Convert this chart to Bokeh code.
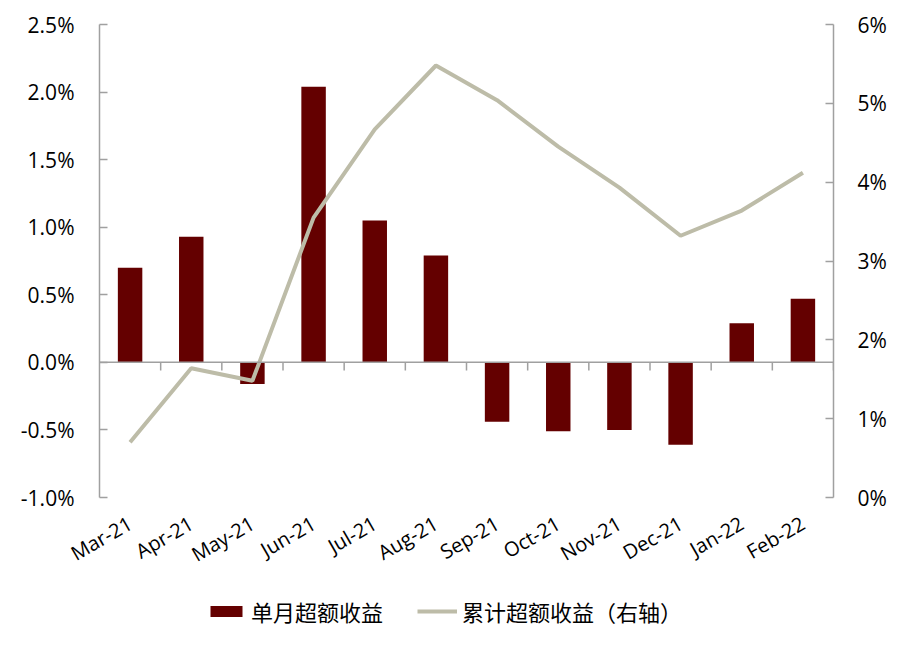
import math
from bokeh.plotting import figure
from bokeh.layouts import column
from bokeh.models import (FactorRange, Range1d, LinearAxis, FixedTicker, PrintfTickFormatter,
                          Span, Legend, LegendItem)
from bokeh.embed import file_html
from bokeh.resources import INLINE

months = ["Mar-21", "Apr-21", "May-21", "Jun-21", "Jul-21", "Aug-21",
          "Sep-21", "Oct-21", "Nov-21", "Dec-21", "Jan-22", "Feb-22"]
monthly_excess = [0.70, 0.93, -0.16, 2.04, 1.05, 0.79, -0.44, -0.51, -0.50, -0.61, 0.29, 0.47]
cumulative_excess = [0.70, 1.64, 1.48, 3.55, 4.67, 5.48, 5.04, 4.45, 3.93, 3.32, 3.64, 4.12]
left_ticks = [-1.0, -0.5, 0.0, 0.5, 1.0, 1.5, 2.0, 2.5]
right_ticks = [0, 1, 2, 3, 4, 5, 6]
series_names = ["单月超额收益", "累计超额收益（右轴）"]

BAR = "#640000"
LINE = "#bdbca8"
AXIS = "#a0a0a0"
FONT = "Open Sans"
CJK = "Noto Sans CJK SC"

p = figure(frame_width=734, frame_height=473, x_range=FactorRange(factors=months),
           y_range=Range1d(-1.0, 2.5), output_backend="svg", toolbar_location=None,
           min_border_left=99, min_border_right=63, min_border_top=24, min_border_bottom=80)
p.extra_y_ranges = {"right": Range1d(0, 6)}
p.outline_line_color = None
p.xgrid.visible = False
p.ygrid.visible = False

bars = p.vbar(x=months, top=monthly_excess, bottom=0, width=0.4,
              fill_color=BAR, line_color=None)
zero = Span(location=0, dimension="width", line_color=AXIS, line_width=1.5)
p.add_layout(zero)
bounds = list(range(1, len(months) + 1))
p.segment(x0=bounds, x1=bounds, y0=[0] * len(bounds), y1=[-0.06] * len(bounds),
          line_color=AXIS, line_width=1.5)
line = p.line(x=months, y=cumulative_excess, y_range_name="right",
              line_color=LINE, line_width=4)

# left axis
ya = p.yaxis[0]
ya.ticker = FixedTicker(ticks=left_ticks)
ya.formatter = PrintfTickFormatter(format="%.1f%%")
ya.axis_line_color = AXIS
ya.axis_line_width = 1.5
ya.major_tick_line_color = AXIS
ya.major_tick_line_width = 1.5
ya.major_tick_in = 8
ya.major_tick_out = 0
ya.minor_tick_line_color = None
ya.major_label_standoff = 25
ya.major_label_text_font = FONT
ya.major_label_text_font_size = "21px"
ya.major_label_text_color = "#000000"

# right axis
ra = LinearAxis(y_range_name="right", ticker=FixedTicker(ticks=right_ticks),
                formatter=PrintfTickFormatter(format="%d%%"))
ra.axis_line_color = AXIS
ra.axis_line_width = 1.5
ra.major_tick_line_color = AXIS
ra.major_tick_line_width = 1.5
ra.major_tick_in = 8
ra.major_tick_out = 0
ra.minor_tick_line_color = None
ra.major_label_standoff = 24
ra.major_label_text_font = FONT
ra.major_label_text_font_size = "21px"
ra.major_label_text_color = "#000000"
p.add_layout(ra, "right")

# x axis
xa = p.xaxis[0]
xa.axis_line_color = None
xa.major_tick_line_color = None
xa.minor_tick_line_color = None
xa.major_label_orientation = math.radians(30)
xa.major_label_standoff = 18
xa.major_label_text_font = FONT
xa.major_label_text_font_size = "20px"
xa.major_label_text_color = "#000000"

# legend strip below the chart (same series drawn out of view, used as legend proxies)
lg = figure(width=p.frame_width + 99 + 63, height=70, output_backend="svg",
            toolbar_location=None, x_range=FactorRange(factors=months),
            y_range=Range1d(100, 101), min_border=0)
lg.axis.visible = False
lg.grid.visible = False
lg.outline_line_color = None
lb = lg.vbar(x=months, top=monthly_excess, bottom=0, width=0.4,
             fill_color=BAR, line_color=None)
ll = lg.line(x=months, y=cumulative_excess, line_color=LINE, line_width=4)
legend = Legend(items=[LegendItem(label=series_names[0], renderers=[lb]),
                       LegendItem(label=series_names[1], renderers=[ll])],
                orientation="horizontal", location=(107, 25),
                glyph_width=40, glyph_height=14, spacing=34, label_standoff=5,
                label_text_font=CJK, label_text_font_size="22px",
                label_text_color="#000000", border_line_color=None,
                background_fill_alpha=0, margin=0, padding=4)
lg.add_layout(legend, "center")

layout = column(p, lg, spacing=0)
open("out.html", "w").write(file_html(layout, INLINE))
